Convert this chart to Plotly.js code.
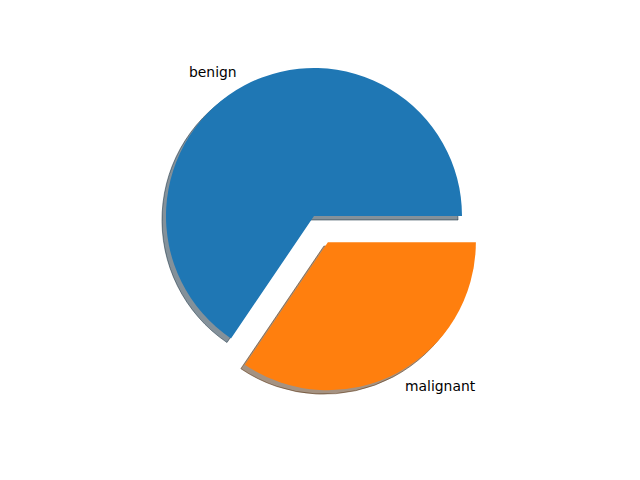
<!DOCTYPE html>
<html>
<head>
<meta charset="utf-8">
<script src="https://cdn.plot.ly/plotly-3.0.1.min.js"></script>
<style>html,body{margin:0;padding:0;background:#fff;}#chart{width:640px;height:480px;}</style>
</head>
<body>
<div id="chart"></div>
<script>
const labels = ["benign", "malignant"];
const counts = [458, 241];
const explode = [0, 0.2];
const colors = ["#1f77b4", "#ff7f0e"];
const shadowColors = ["rgba(9,36,54,0.5)", "rgba(76,38,4,0.5)"];

const W = 640, H = 480;
const cxPx = 314, cyPx = 216, rPx = 148;
const maxPull = Math.max(...explode);
const side = rPx * 2 * (1 + maxPull);
const shadowDx = -4, shadowDy = 4;
const total = counts.reduce((a, b) => a + b, 0);
// first slice spans counterclockwise from 3 o'clock (matplotlib startangle 0)
const rot = 90 - 360 * counts[0] / total;

function dom(cx, cy) {
  return {
    x: [(cx - side / 2) / W, (cx + side / 2) / W],
    y: [1 - (cy + side / 2) / H, 1 - (cy - side / 2) / H]
  };
}

const base = {
  type: "pie",
  labels: labels,
  values: counts,
  pull: explode,
  sort: false,
  direction: "counterclockwise",
  rotation: rot,
  textinfo: "none",
  hoverinfo: "label+value",
  showlegend: false
};

const shadow = Object.assign({}, base, {
  domain: dom(cxPx + shadowDx, cyPx + shadowDy),
  marker: { colors: shadowColors, line: { color: shadowColors, width: 1 } }
});
const main = Object.assign({}, base, {
  domain: dom(cxPx, cyPx),
  marker: { colors: colors, line: { width: 0 } }
});

let acc = 0;
const annotations = labels.map((lab, i) => {
  const frac = counts[i] / total;
  const mid = (acc + frac / 2) * 2 * Math.PI;
  acc += frac;
  const d = (1.1 + explode[i]) * rPx;
  const x = cxPx + d * Math.cos(mid);
  const y = cyPx - d * Math.sin(mid);
  return {
    text: lab, xref: "paper", yref: "paper",
    x: x / W, y: 1 - y / H,
    xanchor: Math.cos(mid) < 0 ? "right" : "left",
    yanchor: "middle", showarrow: false, borderpad: 0,
    font: { family: "DejaVu Sans", size: 13.9, color: "#000" }
  };
});

Plotly.newPlot("chart", [shadow, main], {
  width: W, height: H,
  margin: { l: 0, r: 0, t: 0, b: 0 },
  paper_bgcolor: "#fff",
  plot_bgcolor: "#fff",
  annotations: annotations,
  font: { family: "DejaVu Sans" }
}, { displayModeBar: false, staticPlot: true });
</script>
</body>
</html>
